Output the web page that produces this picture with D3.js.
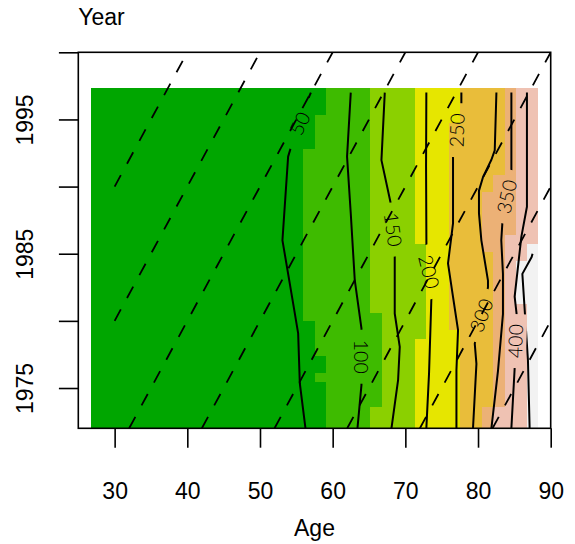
<!DOCTYPE html>
<html>
<head>
<meta charset="utf-8">
<script src="https://cdn.jsdelivr.net/npm/d3@7"></script>
<style>
  body { margin: 0; background: #fff; }
  text { font-family: "Liberation Sans", Arial, sans-serif; }
</style>
</head>
<body>
<svg id="chart" width="575" height="544"></svg>
<script>
// ---- Rate surface: cell centres on a regular age x year grid ----
const ageRange = [27.5, 87.5];
const yearRange = [1972, 1997];
const nAge = 40;
const nYear = 40;

// Rate band of every cell (0 = lowest band, 7 = highest), one string per
// calendar-year row, from 1972 (first) up to 1997 (last); one digit per age cell.
const rateBands = [
  "0000000000000000000001111222233334456667",
  "0000000000000000000001111222233334456667",
  "0000000000000000000001111222233334456667",
  "0000000000000000000001111122233334445667",
  "0000000000000000000001111122233334445667",
  "0000000000000000000001111122233334445667",
  "0000000000000000000011111122233334445667",
  "0000000000000000000001111122233334445667",
  "0000000000000000000001111122233334445667",
  "0000000000000000000011111122233334445667",
  "0000000000000000000011111122233334445667",
  "0000000000000000000011111122223334445667",
  "0000000000000000000011111122223344445667",
  "0000000000000000000111111122223344445667",
  "0000000000000000000111111222223344445667",
  "0000000000000000000111111222223344445677",
  "0000000000000000000111111222223344445677",
  "0000000000000000000111111222223344445677",
  "0000000000000000000111111222223344445677",
  "0000000000000000000111111222223344445677",
  "0000000000000000000111111222223344445667",
  "0000000000000000000111111222223344455667",
  "0000000000000000000111111222233344455666",
  "0000000000000000000111111222233344455566",
  "0000000000000000000111111222233344455566",
  "0000000000000000000111111222233344455566",
  "0000000000000000000111111222233344455566",
  "0000000000000000000111111222233344455566",
  "0000000000000000000111111222233344445566",
  "0000000000000000000111111222233344445566",
  "0000000000000000000111111222233344444566",
  "0000000000000000000111111222233344444566",
  "0000000000000000000111111222233344444566",
  "0000000000000000000011111222233344444566",
  "0000000000000000000011111222233344444566",
  "0000000000000000000011111222233344444566",
  "0000000000000000000011111222233334444566",
  "0000000000000000000001111222233334444566",
  "0000000000000000000001111222233334444566",
  "0000000000000000000001111222233334444566"
];

// Colours of the eight rate bands (terrain palette)
const bandColors = ["#00A600", "#3EBB00", "#8BD000", "#E6E600",
                    "#E9BD3A", "#ECB176", "#EFC2B3", "#F2F2F2"];

// ---- Contours of the rate, traced as [age, year] vertices ----
const contourLevels = [50, 100, 150, 200, 250, 300, 350, 400, 450];
const contourPaths = [
  [[56.26,1972],[55.48,1975.34],[55.25,1979.07],[54.56,1981.3],[53.09,1986.0],[53.87,1992.23],[54.42,1993.22],[55.5,1994.7],[56.2,1996.0],[57.0,1997]],
  [[63.41,1972],[63.96,1975.22],[63.96,1979.44],[63.04,1983.04],[62.49,1988.0],[61.98,1992.23],[62.49,1997]],
  [[68.09,1972],[69.0,1975.58],[69.23,1978.06],[68.54,1980.55],[68.54,1985.15],[68.09,1988.5],[66.71,1991.97],[67.17,1997]],
  [[72.89,1972],[73.26,1976.09],[73.59,1981.8],[72.9,1985.5],[72.85,1991.5],[72.89,1997]],
  [[77.03,1972],[77.03,1976.33],[77.25,1979.31],[76.56,1981.79],[75.87,1984.28],[76.56,1987.26],[76.56,1992.22],[77.71,1996.2],[77.71,1997]],
  [[79.31,1972],[79.78,1976.8],[79.55,1978.3],[81.37,1982.5],[81.37,1983.0],[80.46,1986.0],[80.13,1988.0],[80.13,1989.7],[80.68,1990.7],[81.84,1992.0],[82.3,1992.7],[82.53,1997]],
  [[81.84,1972],[82.75,1976.3],[83.43,1980.5],[83.43,1983.5],[83.2,1986.0],[83.35,1987.3],[84.59,1991.2],[84.59,1997]],
  [[84.59,1972],[85.04,1976.45],[85.1,1978.5],[85.3,1980.55],[85.04,1981.8],[85.96,1986.26],[86.73,1988.5],[86.73,1997]],
  [[87.1,1972],[86.87,1977.07],[86.1,1983.5],[87.38,1984.75],[87.5,1985.0]]
];

// Contour labels: level, [age, year] of the label, text angle (degrees)
const contourLabels = [
  {level: 50,  at: [55.5, 1994.7],   angle: -64},
  {level: 100, at: [63.95, 1977.33], angle: 90},
  {level: 150, at: [68.3, 1986.8],   angle: 82},
  {level: 200, at: [73.25, 1983.65], angle: 76},
  {level: 250, at: [77.1, 1994.2],   angle: -88},
  {level: 300, at: [80.46, 1980.4],  angle: -70},
  {level: 350, at: [83.97, 1989.25], angle: -78},
  {level: 400, at: [85.15, 1978.5],  angle: -88}
];

// Birth cohorts shown as dashed diagonals (year - age = cohort)
const cohorts = [1890, 1900, 1910, 1920, 1930, 1940, 1950, 1960];
const cohortAgeRange = [30, 90];

// Axes
const ageTicks = [30, 40, 50, 60, 70, 80, 90];
const yearTicks = [1975, 1980, 1985, 1990, 1995, 2000];
const yearTickLabels = [1975, 1985, 1995];

// ---------------------------------------------------------------
const box = {left: 78.3, right: 550.7, top: 52.3, bottom: 428.3};
const x = d3.scaleLinear().domain([25, 90]).range([box.left, box.right]);
const y = d3.scaleLinear().domain([1972, 2000]).range([box.bottom, box.top]);
const color = d3.scaleOrdinal().domain(d3.range(bandColors.length)).range(bandColors);

const svg = d3.select("#chart");
const defs = svg.append("defs");
defs.append("clipPath").attr("id", "plotClip").append("rect")
  .attr("x", box.left).attr("y", box.top)
  .attr("width", box.right - box.left).attr("height", box.bottom - box.top);

// cell grid
const ageStep = (ageRange[1] - ageRange[0]) / (nAge - 1);
const yearStep = (yearRange[1] - yearRange[0]) / (nYear - 1);
const ages = d3.range(nAge).map(i => ageRange[0] + i * ageStep);
const years = d3.range(nYear).map(i => yearRange[0] + i * yearStep);

// merge horizontal runs of equal band into one rect per run
const runs = [];
rateBands.forEach((row, r) => {
  const s = row.padStart(nAge, "0").slice(-nAge);
  let start = 0;
  for (let c = 1; c <= nAge; c++) {
    if (c === nAge || s[c] !== s[start]) {
      runs.push({a0: ages[start] - ageStep / 2, a1: ages[c - 1] + ageStep / 2,
                 y0: years[r] - yearStep / 2, y1: years[r] + yearStep / 2, band: +s[start]});
      start = c;
    }
  }
});

const plot = svg.append("g").attr("clip-path", "url(#plotClip)");
plot.append("g").selectAll("rect").data(runs).join("rect")
  .attr("x", d => x(d.a0))
  .attr("width", d => x(d.a1) - x(d.a0))
  .attr("y", d => y(d.y1))
  .attr("height", d => y(d.y0) - y(d.y1) + 0.6)
  .attr("fill", d => color(d.band))
  .attr("shape-rendering", "crispEdges");

// gaps in the contour lines under their labels
const gapW = 54, gapH = 22;
const mask = defs.append("mask").attr("id", "labelGaps").attr("maskUnits", "userSpaceOnUse")
  .attr("x", 0).attr("y", 0).attr("width", 575).attr("height", 544);
mask.append("rect").attr("x", 0).attr("y", 0).attr("width", 575).attr("height", 544).attr("fill", "#fff");
mask.selectAll("rect.gap").data(contourLabels).join("rect").attr("class", "gap")
  .attr("x", -gapW / 2).attr("y", -gapH / 2).attr("width", gapW).attr("height", gapH)
  .attr("fill", "#000")
  .attr("transform", d => `translate(${x(d.at[0])},${y(d.at[1])}) rotate(${d.angle})`);

const line = d3.line().x(d => x(d[0])).y(d => y(d[1]));
plot.append("g").attr("mask", "url(#labelGaps)")
  .selectAll("path").data(contourPaths).join("path")
  .attr("d", line)
  .attr("fill", "none").attr("stroke", "#000").attr("stroke-width", 2.0)
  .attr("stroke-linejoin", "round");

plot.append("g").selectAll("text").data(contourLabels).join("text")
  .attr("transform", d => `translate(${x(d.at[0])},${y(d.at[1])}) rotate(${d.angle})`)
  .attr("text-anchor", "middle").attr("dy", "0.36em")
  .style("font-family", "Lato, 'DejaVu Sans', sans-serif")
  .style("font-weight", 300)
  .style("font-size", "19.5px")
  .attr("fill", "#000")
  .text(d => d.level);

// cohort diagonals
const cohortSegs = cohorts.map(c => {
  const a0 = Math.max(cohortAgeRange[0], y.domain()[0] - c);
  const a1 = Math.min(cohortAgeRange[1], y.domain()[1] - c);
  return [[a0, a0 + c], [a1, a1 + c]];
}).filter(s => s[1][0] > s[0][0]);
plot.append("g").selectAll("path").data(cohortSegs).join("path")
  .attr("d", line)
  .attr("fill", "none").attr("stroke", "#000").attr("stroke-width", 1.8)
  .attr("stroke-dasharray", "13,13");

// box
svg.append("rect")
  .attr("x", box.left).attr("y", box.top)
  .attr("width", box.right - box.left).attr("height", box.bottom - box.top)
  .attr("fill", "none").attr("stroke", "#000").attr("stroke-width", 1.6);

// x axis
const xAxis = svg.append("g").attr("transform", `translate(0,${box.bottom})`)
  .call(d3.axisBottom(x).tickValues(ageTicks).tickSize(19.4).tickFormat(d3.format("d")));
xAxis.select(".domain").remove();
xAxis.selectAll(".tick line").attr("stroke", "#000").attr("stroke-width", 1.6);
xAxis.selectAll(".tick text")
  .attr("y", 70.7).attr("dy", null)
  .style("font-family", "'Liberation Sans', Arial, sans-serif")
  .style("font-size", "23px").attr("fill", "#000");

// y axis
const yAxis = svg.append("g").attr("transform", `translate(${box.left},0)`)
  .call(d3.axisLeft(y).tickValues(yearTicks).tickSize(19.4)
    .tickFormat(d => yearTickLabels.includes(d) ? String(d) : ""));
yAxis.select(".domain").remove();
yAxis.selectAll(".tick line").attr("stroke", "#000").attr("stroke-width", 1.6);
yAxis.selectAll(".tick text")
  .attr("x", null).attr("dy", null)
  .attr("text-anchor", "middle")
  .attr("transform", `translate(${33.3 - box.left},0) rotate(-90)`)
  .style("font-family", "'Liberation Sans', Arial, sans-serif")
  .style("font-size", "23px").attr("fill", "#000");

// axis titles
svg.append("text").attr("x", (box.left + box.right) / 2).attr("y", 536)
  .attr("text-anchor", "middle").style("font-size", "23px").text("Age");
svg.append("text").attr("x", box.left).attr("y", 25)
  .style("font-size", "23px").text("Year");
</script>
</body>
</html>
